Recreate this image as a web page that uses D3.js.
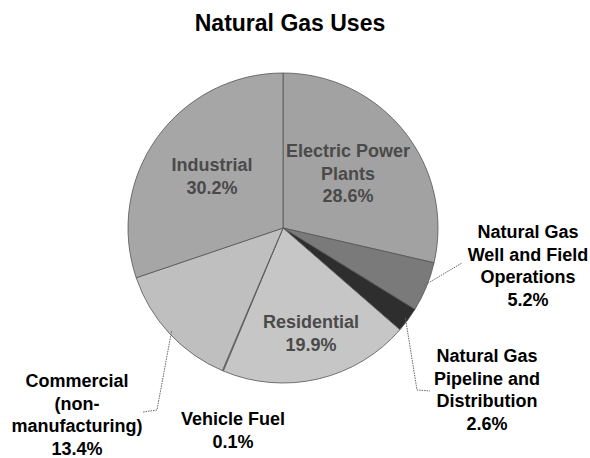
<!DOCTYPE html>
<html>
<head>
<meta charset="utf-8">
<script src="https://cdn.jsdelivr.net/npm/d3@7"></script>
<style>
  body { margin: 0; background: #fff; }
  svg { display: block; }
  text { font-family: Arial, "Liberation Sans", sans-serif; font-weight: bold; }
</style>
</head>
<body>
<svg></svg>
<script>
// data (clockwise from 12 o'clock)
let categories = ['Electric Power Plants', 'Natural Gas Well and Field Operations', 'Natural Gas Pipeline and Distribution', 'Residential', 'Vehicle Fuel', 'Commercial (non-manufacturing)', 'Industrial']
let shares = [28.6, 5.2, 2.6, 19.9, 0.1, 13.4, 30.2]
let labelLines = [['Electric Power', 'Plants'], ['Natural Gas', 'Well and Field', 'Operations'], ['Natural Gas', 'Pipeline and', 'Distribution'], ['Residential'], ['Vehicle Fuel'], ['Commercial', '(non-', 'manufacturing)'], ['Industrial']]

let w = 590
let h = 458
let cx = 283
let cy = 228
let r = 155

let fills = ['#a2a2a2', '#7a7a7a', '#2e2e2e', '#c6c6c6', '#b0b0b0', '#bfbfbf', '#a6a6a6']

// where each label block sits: [x, y of first line, inside pie?]
let labelPos = [
  [348, 152, true],
  [528, 233, false],
  [487, 357, false],
  [311, 323, true],
  [233, 420, false],
  [77, 382, false],
  [212, 166, true]
]
// leader lines (pie edge -> near label)
let leaders = {
  1: [[462, 263]],
  2: [[417, 390], [430, 391]],
  5: [[157, 410], [143, 412]]
}

let svg = d3.select('svg').attr('width', w).attr('height', h)

svg.append('text')
   .attr('x', 290)
   .attr('y', 31)
   .attr('text-anchor', 'middle')
   .style('font-size', '23px')
   .attr('fill', '#000')
   .text('Natural Gas Uses')

let pie = d3.pie().sort(null).startAngle(0).endAngle(2 * Math.PI)
let arcs = pie(shares)
let arc = d3.arc().innerRadius(0).outerRadius(r)

let g = svg.append('g').attr('transform', 'translate(' + cx + ',' + cy + ')')

g.selectAll('path')
 .data(arcs)
 .enter()
 .append('path')
 .attr('d', arc)
 .attr('fill', (d, i) => fills[i])
 .attr('stroke', '#555')
 .attr('stroke-width', 0.8)

// leader lines
let edge = d3.arc().innerRadius(r - 4).outerRadius(r - 4)
Object.keys(leaders).forEach((k) => {
  let a = arcs[k]
  let mid = (a.startAngle + a.endAngle) / 2
  let p0 = [cx + (r - 3) * Math.sin(mid), cy - (r - 3) * Math.cos(mid)]
  let pts = [p0].concat(leaders[k])
  svg.append('path')
     .attr('d', d3.line()(pts))
     .attr('fill', 'none')
     .attr('stroke', '#666')
     .attr('stroke-width', 1)
     .attr('stroke-dasharray', '1.5,1')
})

// labels
arcs.forEach((a, i) => {
  let [x, y, inside] = labelPos[i]
  let lines = labelLines[i].concat([d3.format('.1f')(shares[i]) + '%'])
  let t = svg.append('text')
             .attr('x', x)
             .attr('y', y)
             .attr('text-anchor', 'middle')
             .attr('dominant-baseline', 'middle')
             .style('font-size', '18px')
             .attr('fill', inside ? '#4a4a4a' : '#000')
  lines.forEach((s, j) => {
    t.append('tspan')
     .attr('x', x)
     .attr('dy', j == 0 ? 0 : 22.5)
     .text(s)
  })
})
</script>
</body>
</html>
